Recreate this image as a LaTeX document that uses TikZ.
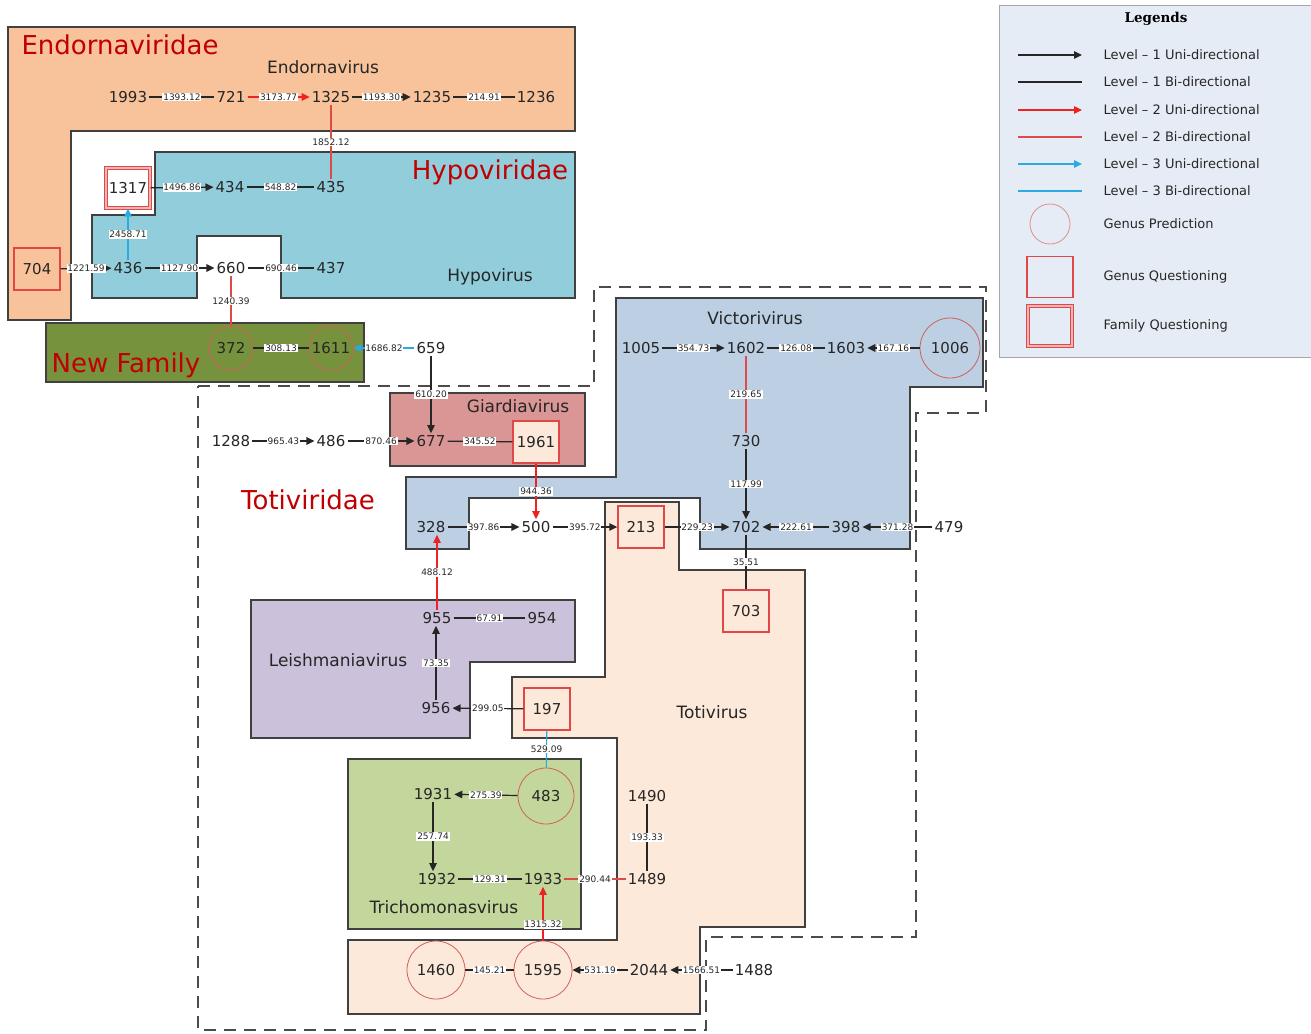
\documentclass[tikz,border=0pt]{standalone}
\usepackage{fontspec}
\setmainfont{DejaVu Sans}
\newfontfamily\legserif{DejaVu Serif}
\usetikzlibrary{arrows.meta}
\definecolor{endo}{HTML}{F8C39B}
\definecolor{hypo}{HTML}{92CDDC}
\definecolor{newfam}{HTML}{76923C}
\definecolor{giar}{HTML}{D99694}
\definecolor{vict}{HTML}{BDCFE3}
\definecolor{toti}{HTML}{FDE9D9}
\definecolor{leish}{HTML}{CCC1DA}
\definecolor{trich}{HTML}{C3D69B}
\definecolor{legfill}{HTML}{E6ECF5}
\definecolor{legborder}{HTML}{A6A6A6}
\definecolor{regborder}{HTML}{404040}
\definecolor{famred}{HTML}{C00000}
\definecolor{txt}{HTML}{262626}
\definecolor{ltwo}{HTML}{EE2222}
\definecolor{ltwob}{HTML}{DD4A4A}
\definecolor{lthree}{HTML}{29ABE2}
\definecolor{gpred}{HTML}{D0605A}
\definecolor{gqred}{HTML}{E04848}
\definecolor{fqpink}{HTML}{F4B6B6}
\tikzset{
  region/.style={draw=regborder, line width=1.3pt},
  num/.style={font=\fontsize{15}{18}\selectfont, inner sep=2pt, text=txt},
  gpnode/.style={num, circle, draw=gpred, line width=0.8pt, minimum size=#1, inner sep=0pt},
  gpnode/.default=44pt,
  gqnode/.style={num, rectangle, draw=gqred, line width=1.4pt, minimum width=46pt, minimum height=42pt},
  fqnode/.style={num, rectangle, draw=gqred, double=fqpink, double distance=1.5pt, line width=1.2pt, minimum width=44pt, minimum height=40pt, fill=white},
  elab/.style={fill=white, font=\fontsize{9}{10}\selectfont, inner sep=0.8pt, text=txt},
  famlab/.style={font=\fontsize{26}{30}\selectfont, text=famred},
  genlab/.style={font=\fontsize{17}{20}\selectfont, text=txt},
  lonebi/.style={line width=1.2pt, draw=black!85},
  loneuni/.style={lonebi, -{Triangle[length=8pt,width=7.5pt]}},
  ltwobi/.style={line width=1.2pt, draw=ltwob},
  ltwouni/.style={line width=1.2pt, draw=ltwo, -{Triangle[length=8pt,width=7.5pt]}},
  lthreebi/.style={line width=1.2pt, draw=lthree},
  lthreeuni/.style={line width=1.2pt, draw=lthree, -{Triangle[length=8pt,width=7.5pt]}},
  legtext/.style={font=\fontsize{13}{16}\selectfont, text=txt, anchor=west}
}
\begin{document}
\begin{tikzpicture}[x=1pt,y=-1pt]
\useasboundingbox (0,0) rectangle (1311,1033);
% ---------- regions ----------
\draw[region, fill=endo] (8,27) -- (575,27) -- (575,131) -- (71,131) -- (71,320) -- (8,320) -- cycle;
\draw[region, fill=hypo] (155,152) -- (575,152) -- (575,298) -- (281,298) -- (281,236) -- (197,236) -- (197,298) -- (92,298) -- (92,215) -- (155,215) -- cycle;
\draw[region, fill=newfam] (46,323) rectangle (364,382);
\draw[region, fill=giar] (390,393) rectangle (585,466);
\draw[region, fill=vict] (406,477) -- (616,477) -- (616,298) -- (983,298) -- (983,387) -- (910,387) -- (910,549) -- (700,549) -- (700,498) -- (469,498) -- (469,549) -- (406,549) -- cycle;
\draw[region, fill=toti] (605,502) -- (679,502) -- (679,570) -- (805,570) -- (805,927) -- (700,927) -- (700,1014) -- (348,1014) -- (348,940) -- (617,940) -- (617,738) -- (512,738) -- (512,677) -- (605,677) -- cycle;
\draw[region, fill=leish] (251,600) -- (575,600) -- (575,662) -- (470,662) -- (470,738) -- (251,738) -- cycle;
\draw[region, fill=trich] (348,759) rectangle (581,929);
% dashed Totiviridae outline
\draw[line width=1.3pt, draw=black!70, dash pattern=on 12pt off 8pt] (198,386) -- (594,386) -- (594,287) -- (986,287) -- (986,413) -- (916,413) -- (916,937) -- (706,937) -- (706,1030) -- (198,1030) -- cycle;
% ---------- family / genus labels ----------
\node[famlab] (fEndo) at (120,45) {Endornaviridae};
\node[genlab] (gEndo) at (323,67) {Endornavirus};
\node[famlab] (fHypo) at (490,172) {Hypoviridae};
\node[genlab] (gHypo) at (490,277) {Hypovirus};
\node[famlab] (fNew) at (126,365) {New Family};
\node[genlab] (gGiar) at (518,406) {Giardiavirus};
\node[famlab] (fToti) at (308,500) {Totiviridae};
\node[genlab] (gVict) at (755,318) {Victorivirus};
\node[genlab] (gLeish) at (338,660) {Leishmaniavirus};
\node[genlab] (gToti) at (712,712) {Totivirus};
\node[genlab] (gTrich) at (444,907) {Trichomonasvirus};
% ---------- nodes ----------
\node[num] (n1993) at (128,97) {1993};
\node[num] (n721) at (231,97) {721};
\node[num] (n1325) at (331,97) {1325};
\node[num] (n1235) at (432,97) {1235};
\node[num] (n1236) at (536,97) {1236};
\node[fqnode] (n1317) at (128,188) {1317};
\node[num] (n434) at (230,187) {434};
\node[num] (n435) at (331,187) {435};
\node[gqnode] (n704) at (37,269) {704};
\node[num] (n436) at (128,268) {436};
\node[num] (n660) at (231,268) {660};
\node[num] (n437) at (331,268) {437};
\node[gpnode=44pt] (n372) at (231,348) {372};
\node[gpnode=44pt] (n1611) at (331,348) {1611};
\node[num] (n659) at (431,348) {659};
\node[num] (n1288) at (231,441) {1288};
\node[num] (n486) at (331,441) {486};
\node[num] (n677) at (431,441) {677};
\node[gqnode, fill=toti] (n1961) at (536,442) {1961};
\node[num] (n328) at (431,527) {328};
\node[num] (n500) at (536,527) {500};
\node[gqnode] (n213) at (641,527) {213};
\node[num] (n702) at (746,527) {702};
\node[num] (n398) at (846,527) {398};
\node[num] (n479) at (949,527) {479};
\node[gqnode] (n703) at (746,611) {703};
\node[num] (n730) at (746,441) {730};
\node[num] (n1005) at (641,348) {1005};
\node[num] (n1602) at (746,348) {1602};
\node[num] (n1603) at (846,348) {1603};
\node[gpnode=60pt] (n1006) at (950,348) {1006};
\node[num] (n955) at (437,618) {955};
\node[num] (n954) at (542,618) {954};
\node[num] (n956) at (436,708) {956};
\node[gqnode] (n197) at (547,709) {197};
\node[num] (n1931) at (433,794) {1931};
\node[gpnode=56pt] (n483) at (546,796) {483};
\node[num] (n1932) at (437,879) {1932};
\node[num] (n1933) at (543,879) {1933};
\node[num] (n1490) at (647,796) {1490};
\node[num] (n1489) at (647,879) {1489};
\node[gpnode=58pt] (n1460) at (436,970) {1460};
\node[gpnode=58pt] (n1595) at (543,970) {1595};
\node[num] (n2044) at (649,970) {2044};
\node[num] (n1488) at (754,970) {1488};
% ---------- edges ----------
\draw[lonebi] (n1993) -- node[elab]{1393.12} (n721);
\draw[ltwouni] (n721) -- node[elab]{3173.77} (n1325);
\draw[loneuni] (n1325) -- node[elab]{1193.30} (n1235);
\draw[lonebi] (n1235) -- node[elab]{214.91} (n1236);
\draw[ltwobi] (n1325) -- node[elab]{1852.12} (n435);
\draw[loneuni] (n1317) -- node[elab]{1496.86} (n434);
\draw[lonebi] (n434) -- node[elab]{548.82} (n435);
\draw[loneuni] (n704) -- node[elab]{1221.59} (n436);
\draw[loneuni] (n436) -- node[elab]{1127.90} (n660);
\draw[lonebi] (n660) -- node[elab]{690.46} (n437);
\draw[lthreeuni] (n436) -- node[elab]{2458.71} (n1317);
\draw[ltwobi] (n660) -- node[elab]{1240.39} (n372);
\draw[lonebi] (n372) -- node[elab]{308.13} (n1611);
\draw[lthreeuni] (n659) -- node[elab]{1686.82} (n1611);
\draw[loneuni] (n659) -- node[elab]{610.20} (n677);
\draw[loneuni] (n1288) -- node[elab]{965.43} (n486);
\draw[loneuni] (n486) -- node[elab]{870.46} (n677);
\draw[lonebi] (n677) -- node[elab]{345.52} (n1961);
\draw[ltwouni] (n1961) -- node[elab]{944.36} (n500);
\draw[loneuni] (n328) -- node[elab]{397.86} (n500);
\draw[loneuni] (n500) -- node[elab]{395.72} (n213);
\draw[loneuni] (n213) -- node[elab]{229.23} (n702);
\draw[loneuni] (n398) -- node[elab]{222.61} (n702);
\draw[loneuni] (n479) -- node[elab]{371.28} (n398);
\draw[loneuni] (n1005) -- node[elab]{354.73} (n1602);
\draw[lonebi] (n1602) -- node[elab]{126.08} (n1603);
\draw[loneuni] (n1006) -- node[elab]{167.16} (n1603);
\draw[ltwobi] (n1602) -- node[elab]{219.65} (n730);
\draw[loneuni] (n730) -- node[elab]{117.99} (n702);
\draw[lonebi] (n702) -- node[elab]{35.51} (n703);
\draw[ltwouni] (n955) -- node[elab]{488.12} (n955 |- n328.south);
\draw[lonebi] (n955) -- node[elab]{67.91} (n954);
\draw[loneuni] (n956) -- node[elab]{73.35} (n956 |- n955.south);
\draw[loneuni] (n197) -- node[elab]{299.05} (n956);
\draw[lthreebi] (n197) -- node[elab]{529.09} (n483);
\draw[loneuni] (n483) -- node[elab]{275.39} (n1931);
\draw[loneuni] (n1931) -- node[elab]{257.74} (n1931 |- n1932.north);
\draw[lonebi] (n1932) -- node[elab]{129.31} (n1933);
\draw[ltwobi] (n1933) -- node[elab]{290.44} (n1489);
\draw[lonebi] (n1490) -- node[elab]{193.33} (n1489);
\draw[ltwouni] (n1595) -- node[elab, pos=0.3]{1315.32} (n1933);
\draw[lonebi] (n1460) -- node[elab]{145.21} (n1595);
\draw[loneuni] (n2044) -- node[elab]{531.19} (n1595);
\draw[loneuni] (n1488) -- node[elab]{1566.51} (n2044);
% ---------- legend ----------
\draw[draw=legborder, fill=legfill, line width=0.8pt] (999,5) rectangle (1311,357);
\node[font=\legserif\bfseries\fontsize{13.5}{16}\selectfont, text=black] (legtitle) at (1156,19) {Legends};
\foreach \i/\yy/\st/\tx in {1/55/loneuni/Level – 1 Uni-directional, 2/82/lonebi/Level – 1 Bi-directional, 3/110/ltwouni/Level – 2 Uni-directional, 4/137/ltwobi/Level – 2 Bi-directional, 5/164/lthreeuni/Level – 3 Uni-directional, 6/191/lthreebi/Level – 3 Bi-directional}{
  \coordinate (la\i) at (1018,\yy);
  \coordinate (lb\i) at (1082,\yy);
  \draw[\st] (la\i) -- (lb\i);
  \node[legtext] (lt\i) at (1100,\yy) {\tx};
}
\node[circle, draw=gpred!70, line width=0.8pt, minimum size=40pt] (lgp) at (1050,224) {};
\node[legtext] (lgpt) at (1100,224) {Genus Prediction};
\node[rectangle, draw=gqred, line width=1.4pt, minimum width=46pt, minimum height=41pt] (lgq) at (1050,277) {};
\node[legtext] (lgqt) at (1100,277) {Genus Questioning};
\node[rectangle, draw=gqred, double=fqpink, double distance=1.5pt, line width=1.2pt, minimum width=44pt, minimum height=40pt] (lfq) at (1050,326) {};
\node[legtext] (lfqt) at (1100,326) {Family Questioning};
\end{tikzpicture}
\end{document}
